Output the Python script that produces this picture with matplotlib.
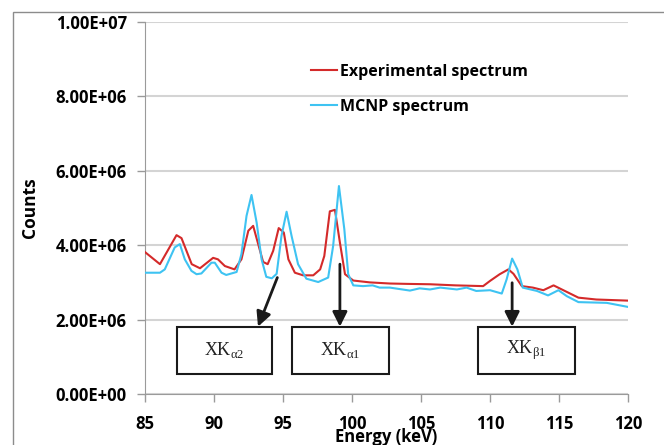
import numpy as np
import matplotlib.pyplot as plt
from matplotlib.patches import Rectangle

plt.rcParams['mathtext.fontset'] = 'custom'
plt.rcParams['mathtext.rm'] = 'Liberation Serif'

# experimental spectrum (energy keV, counts in 1e6)
exp_e = [85.0, 86.1, 87.3, 87.66, 88.4, 89.0, 89.95, 90.3, 90.8, 91.5, 92.0, 92.5,
         92.85, 93.57, 93.9, 94.3, 94.7, 95.07, 95.4, 95.87, 96.47, 97.2, 97.7, 98.0,
         98.4, 98.77, 99.13, 99.5, 100.1, 101.3, 102.75, 104.0, 105.65, 107.5, 109.5,
         110.0, 110.7, 111.33, 111.7, 112.3, 113.1, 113.86, 114.6, 115.2, 116.4, 117.7, 120.0]
exp_c = [3.82, 3.49, 4.27, 4.19, 3.49, 3.38, 3.66, 3.62, 3.44, 3.35, 3.62, 4.39,
         4.52, 3.55, 3.49, 3.85, 4.46, 4.34, 3.62, 3.26, 3.19, 3.19, 3.35, 3.71,
         4.91, 4.95, 4.07, 3.22, 3.05, 3.0, 2.97, 2.96, 2.95, 2.92, 2.9,
         3.04, 3.22, 3.35, 3.23, 2.9, 2.86, 2.79, 2.92, 2.81, 2.59, 2.54, 2.51]

# MCNP spectrum
mc_e = [85.0, 86.1, 86.45, 87.17, 87.54, 87.9, 88.38, 88.75, 89.1, 89.83, 90.07, 90.56,
        90.9, 91.65, 92.0, 92.37, 92.73, 93.1, 93.46, 93.8, 94.2, 94.55, 94.9, 95.27,
        95.63, 96.1, 96.7, 97.56, 98.28, 98.64, 99.06, 99.45, 99.73, 100.1, 100.8, 101.5,
        102.0, 102.75, 104.2, 104.9, 105.65, 106.4, 107.6, 108.3, 109.0, 110.0, 110.85,
        111.2, 111.6, 111.98, 112.37, 113.4, 114.2, 114.95, 115.56, 116.4, 118.45, 120.0]
mc_c = [3.26, 3.26, 3.35, 3.94, 4.03, 3.62, 3.31, 3.22, 3.24, 3.53, 3.53, 3.26,
        3.2, 3.28, 3.76, 4.79, 5.35, 4.61, 3.62, 3.15, 3.11, 3.23, 4.25, 4.9,
        4.25, 3.49, 3.1, 3.01, 3.13, 3.98, 5.59, 4.43, 3.22, 2.92, 2.9, 2.92,
        2.86, 2.86, 2.78, 2.84, 2.81, 2.86, 2.81, 2.86, 2.77, 2.79, 2.7,
        3.08, 3.64, 3.35, 2.86, 2.77, 2.65, 2.79, 2.63, 2.47, 2.45, 2.34]

# peak labels: text, box (x0, x1), arrow start (E, counts), arrow tip E
peak_lbl = [r'XK$_{\mathrm{α2}}$', r'XK$_{\mathrm{α1}}$', r'XK$_{\mathrm{β1}}$']
box_x = [(87.32, 94.2), (95.65, 102.68), (109.13, 116.16)]
arr_from = [(94.6, 3.13), (99.13, 3.49), (111.6, 2.99)]
arr_to = [93.2, 99.13, 111.6]
box_y = (0.54, 1.81)

sans = 'Open Sans'
red = '#d42a2a'
blue = '#3ec3f2'

fig = plt.figure(figsize=(6.64, 4.45), dpi=100)
ax = fig.add_axes([0.218, 0.1146, 0.728, 0.836])
fig.patches.append(Rectangle((0.019, -0.05), 1.2, 0.023 + 1.0, transform=fig.transFigure,
                             fill=False, edgecolor='#8c8c8c', lw=1.0))

ax.plot(exp_e, np.array(exp_c) * 1e6, color=red, lw=1.5, label='Experimental spectrum', zorder=3)
ax.plot(mc_e, np.array(mc_c) * 1e6, color=blue, lw=1.5, label='MCNP spectrum', zorder=3)

ax.set_xlim(85, 120)
ax.set_ylim(0, 1e7)
ax.set_xticks(np.arange(85, 121, 5))
ax.set_yticks(np.arange(0, 1.01e7, 2e6))
ax.yaxis.set_major_formatter(plt.FuncFormatter(lambda v, p: f"{v:.2E}"))
ax.grid(axis='y', color='#d4d4d4', lw=1.5, zorder=0)
ax.set_axisbelow(True)
for s in ['top', 'right']:
    ax.spines[s].set_visible(False)
for s in ['left', 'bottom']:
    ax.spines[s].set_color('#9a9a9a')
ax.tick_params(axis='both', color='#9a9a9a', length=6, width=1, labelsize=12)
ax.tick_params(axis='x', pad=9)
ax.tick_params(axis='y', pad=7)
for t in ax.get_xticklabels() + ax.get_yticklabels():
    t.set_fontfamily(sans)
    t.set_fontweight('bold')

ax.set_ylabel('Counts', fontfamily=sans, fontweight='bold', fontsize=12.5, labelpad=12)
ax.set_xlabel('Energy (keV)', fontfamily=sans, fontweight='bold', fontsize=12, labelpad=-3.5)

leg = ax.legend(loc='upper left', bbox_to_anchor=(0.344, 0.888), frameon=False,
                borderpad=0, borderaxespad=0,
                handlelength=1.6, handletextpad=0.2, labelspacing=1.2,
                prop={'family': sans, 'weight': 'bold', 'size': 11.5})

for lbl, (x0, x1), (fx, fy), tx in zip(peak_lbl, box_x, arr_from, arr_to):
    ax.add_patch(Rectangle((x0, box_y[0] * 1e6), x1 - x0, (box_y[1] - box_y[0]) * 1e6,
                           facecolor='white', edgecolor='#1a1a1a', lw=1.5, zorder=4))
    ax.text((x0 + x1) / 2, (box_y[0] + box_y[1]) / 2 * 1e6, lbl, ha='center', va='center',
            fontfamily='Liberation Serif', fontsize=13, color='#222222', zorder=5)
    ax.annotate('', xy=(tx, box_y[1] * 1e6), xytext=(fx, fy * 1e6),
                arrowprops=dict(arrowstyle='-|>', color='#1a1a1a', lw=2,
                                mutation_scale=22, shrinkA=0, shrinkB=0), zorder=5)

fig.savefig('out.png', dpi=100)
